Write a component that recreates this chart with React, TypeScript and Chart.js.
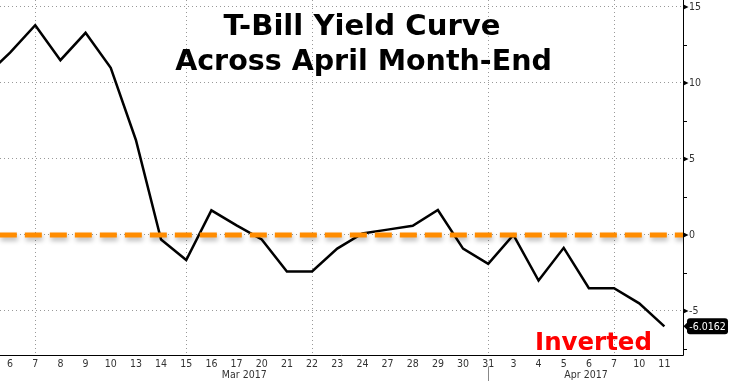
import React, { useEffect, useRef } from 'react';
import { Chart, registerables } from 'chart.js';

Chart.register(...registerables);

// ---- data ----
// First entry (Mar 3) lies just outside the visible range; only its segment enters the plot.
const CATEGORIES = ['3', '6', '7', '8', '9', '10', '13', '14', '15', '16', '17', '20', '21', '22', '23', '24', '27', '28', '29', '30', '31', '3', '4', '5', '6', '7', '10', '11'];
const MONTHS = ['Mar', 'Mar', 'Mar', 'Mar', 'Mar', 'Mar', 'Mar', 'Mar', 'Mar', 'Mar', 'Mar', 'Mar', 'Mar', 'Mar', 'Mar', 'Mar', 'Mar', 'Mar', 'Mar', 'Mar', 'Mar', 'Apr', 'Apr', 'Apr', 'Apr', 'Apr', 'Apr', 'Apr'];
const YIELD_SPREAD = [10.4, 12.0, 13.8, 11.5, 13.3, 11.0, 6.25, -0.3, -1.65, 1.62, 0.63, -0.3, -2.4, -2.4, -0.9, 0.1, 0.35, 0.6, 1.64, -0.9, -1.9, 0.0, -3.0, -0.85, -3.5, -3.5, -4.5, -6.0162];
const ZERO_LINE = 0;
const Y_TICKS = [-5, 0, 5, 10, 15];
const Y_MINOR_TICKS = [-7.5, -2.5, 2.5, 7.5, 12.5];
const GRID_DATES = ['Mar 7', 'Mar 15', 'Mar 22', 'Mar 31', 'Apr 7'];
const MONTH_LABELS = ['Mar 2017', 'Apr 2017'];
const LAST_VALUE_LABEL = '-6.0162';
const TITLE_LINES = ['T-Bill Yield Curve', 'Across April Month-End'];
const ANNOTATION = 'Inverted';

const X_MIN = 0.6;
const X_MAX = 27.74;
const Y_MIN = -7.9;
const Y_MAX = 15.46;

const FONT = '"DejaVu Sans Condensed", "DejaVu Sans", sans-serif';
const TITLE_FONT = '"DejaVu Sans", Verdana, sans-serif';

const gridIdx = GRID_DATES.map((d) => CATEGORIES.findIndex((c, i) => `${MONTHS[i]} ${c}` === d));
const monthBoundary = MONTHS.findIndex((m) => m === 'Apr') - 1; // last day of March

function fitFont(ctx: CanvasRenderingContext2D, text: string, targetW: number, weight: string, family: string) {
  ctx.font = `${weight} 30px ${family}`;
  const w = ctx.measureText(text).width;
  const size = (30 * targetW) / w;
  return `${weight} ${size.toFixed(2)}px ${family}`;
}

const decorPlugin = {
  id: 'decor',
  beforeDatasetDraw(chart: any, args: any) {
    if (args.index === 0) {
      const ctx = chart.ctx;
      ctx.save();
      ctx.shadowColor = 'rgba(0,0,0,0.3)';
      ctx.shadowBlur = 5;
      ctx.shadowOffsetX = 1;
      ctx.shadowOffsetY = 3;
    }
  },
  afterDatasetDraw(chart: any, args: any) {
    if (args.index === 0) chart.ctx.restore();
  },
  afterDraw(chart: any) {
    const ctx: CanvasRenderingContext2D = chart.ctx;
    const { left, right, top, bottom } = chart.chartArea;
    const xs = chart.scales.x;
    const ys = chart.scales.y;
    const ax = Math.round(right) + 0.5;
    const ay = Math.round(bottom) + 0.5;
    ctx.save();
    // axes
    ctx.strokeStyle = '#000';
    ctx.lineWidth = 1;
    ctx.beginPath();
    ctx.moveTo(left, ay);
    ctx.lineTo(ax, ay);
    ctx.moveTo(ax, top);
    ctx.lineTo(ax, ay);
    ctx.stroke();
    // minor ticks
    ctx.beginPath();
    Y_MINOR_TICKS.forEach((v) => {
      const y = Math.round(ys.getPixelForValue(v)) + 0.5;
      ctx.moveTo(ax, y);
      ctx.lineTo(ax + 3.5, y);
    });
    ctx.stroke();
    // major tick triangles
    ctx.fillStyle = '#000';
    Y_TICKS.forEach((v) => {
      const y = ys.getPixelForValue(v);
      ctx.beginPath();
      ctx.moveTo(ax, y - 2.5);
      ctx.lineTo(ax + 5, y);
      ctx.lineTo(ax, y + 2.5);
      ctx.closePath();
      ctx.fill();
    });
    // month separator + month labels
    const sepX = Math.round(xs.getPixelForValue(monthBoundary)) + 0.5;
    ctx.strokeStyle = '#888';
    ctx.beginPath();
    ctx.moveTo(sepX, ay + 11);
    ctx.lineTo(sepX, chart.height);
    ctx.stroke();
    ctx.fillStyle = '#333';
    ctx.font = `10.5px ${FONT}`;
    ctx.textAlign = 'center';
    ctx.textBaseline = 'middle';
    ctx.fillText(MONTH_LABELS[0], (left + sepX) / 2, ay + 20);
    ctx.fillText(MONTH_LABELS[1], (sepX + ax) / 2, ay + 20);
    // last value label
    const lv = YIELD_SPREAD[YIELD_SPREAD.length - 1];
    const ly = ys.getPixelForValue(lv);
    ctx.fillStyle = '#000';
    ctx.beginPath();
    ctx.moveTo(ax, ly);
    ctx.lineTo(ax + 5, ly - 5);
    ctx.lineTo(ax + 5, ly + 5);
    ctx.closePath();
    ctx.fill();
    ctx.beginPath();
    (ctx as any).roundRect(ax + 3.5, ly - 8, 41, 16, 3);
    ctx.fill();
    ctx.fillStyle = '#fff';
    ctx.font = `10.5px ${FONT}`;
    ctx.fillText(LAST_VALUE_LABEL, ax + 24, ly + 0.5);
    // title
    ctx.fillStyle = '#000';
    ctx.textAlign = 'center';
    ctx.textBaseline = 'alphabetic';
    ctx.font = fitFont(ctx, TITLE_LINES[0], 277, 'bold', TITLE_FONT);
    ctx.fillText(TITLE_LINES[0], 362, 35);
    ctx.font = fitFont(ctx, TITLE_LINES[1], 377, 'bold', TITLE_FONT);
    ctx.fillText(TITLE_LINES[1], 363.5, 70);
    // annotation
    ctx.fillStyle = '#ff0000';
    ctx.font = fitFont(ctx, ANNOTATION, 117, 'bold', TITLE_FONT);
    ctx.fillText(ANNOTATION, 593.5, 350);
    ctx.restore();
  },
};

export default function App() {
  const ref = useRef<HTMLCanvasElement | null>(null);
  useEffect(() => {
    if (!ref.current) return;
    const chart = new Chart(ref.current, {
      type: 'line',
      data: {
        datasets: [
          {
            label: 'Zero',
            data: [
              { x: X_MIN - 1, y: ZERO_LINE },
              { x: X_MAX + 1, y: ZERO_LINE },
            ],
            borderColor: '#ff8c00',
            borderWidth: 5,
            borderDash: [17, 8],
            pointRadius: 0,
            order: 0,
          },
          {
            label: 'Spread',
            data: CATEGORIES.map((_, i) => ({ x: i, y: YIELD_SPREAD[i] })),
            borderColor: '#000',
            borderWidth: 2.5,
            pointRadius: 0,
            tension: 0,
            order: 1,
          },
        ],
      },
      options: {
        responsive: false,
        animation: false,
        layout: { padding: 0 },
        plugins: {
          legend: { display: false },
          tooltip: { enabled: false },
          title: { display: false },
        },
        scales: {
          x: {
            type: 'linear',
            position: 'bottom',
            min: X_MIN,
            max: X_MAX,
            afterBuildTicks: (s: any) => {
              s.ticks = CATEGORIES.map((_, i) => ({ value: i })).filter((t) => t.value >= X_MIN && t.value <= X_MAX);
            },
            afterFit: (s: any) => {
              s.height = 26;
              s.paddingLeft = 0;
              s.paddingRight = 0;
            },
            ticks: {
              autoSkip: false,
              maxRotation: 0,
              padding: 3,
              color: '#333',
              font: { family: FONT, size: 10.5 },
              callback: (v: any) => CATEGORIES[Math.round(Number(v))],
            },
            grid: {
              drawTicks: false,
              lineWidth: 1,
              color: (c: any) => (c.tick && gridIdx.includes(c.tick.value) ? '#999' : 'rgba(0,0,0,0)'),
            },
            border: { display: false, dash: [1, 3] },
          },
          y: {
            type: 'linear',
            position: 'right',
            min: Y_MIN,
            max: Y_MAX,
            afterBuildTicks: (s: any) => {
              s.ticks = Y_TICKS.map((v) => ({ value: v }));
            },
            afterFit: (s: any) => {
              s.width = 46;
              s.paddingTop = 0;
              s.paddingBottom = 0;
            },
            ticks: {
              padding: 6,
              color: '#333',
              font: { family: FONT, size: 10.5 },
              callback: (v: any) => String(v),
            },
            grid: { drawTicks: false, color: '#999', lineWidth: 1 },
            border: { display: false, dash: [1, 3] },
          },
        },
      } as any,
      plugins: [decorPlugin],
    });
    return () => chart.destroy();
  }, []);
  return (
    <div style={{ position: 'fixed', left: 0, top: 0, width: 729, height: 381, background: '#fff' }}>
      <canvas ref={ref} width={729} height={381} style={{ display: 'block' }} />
    </div>
  );
}
